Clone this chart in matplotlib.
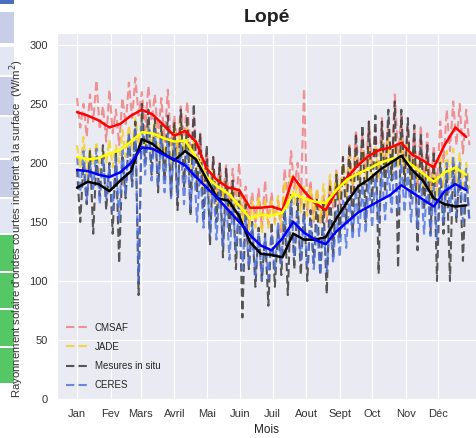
import matplotlib
matplotlib.use('Agg')
import matplotlib.pyplot as plt
import seaborn as sns
import numpy as np
from matplotlib.patches import Rectangle

# valeurs journalieres (un point tous les 3 jours)
cmsaf = [255, 230, 250, 222, 258, 235, 270, 228, 248, 218,
         262, 225, 245, 215, 255, 232, 268, 238, 272, 240,
         260, 228, 265, 235, 258, 222, 255, 218, 262, 215,
         240, 210, 248, 222, 252, 208, 240, 200, 225, 182,
         210, 175, 205, 168, 200, 172, 198, 160, 195, 165,
         200, 155, 180, 148, 175, 150, 178, 145, 185, 148,
         175, 150, 168, 140, 195, 170, 210, 178, 200, 165,
         263, 160, 185, 150, 178, 148, 172, 150, 185, 162,
         195, 165, 205, 172, 215, 178, 228, 185, 225, 190,
         235, 195, 230, 188, 238, 200, 232, 195, 258, 205,
         240, 192, 232, 185, 228, 180, 232, 178, 225, 175,
         215, 180, 235, 200, 245, 210, 252, 215, 250, 208,
         245, 215]
jade = [215, 195, 222, 190, 212, 198, 218, 192, 210, 200,
        220, 196, 215, 200, 228, 205, 232, 210, 238, 215,
        240, 212, 235, 210, 238, 208, 232, 205, 230, 200,
        232, 205, 235, 208, 230, 195, 220, 185, 205, 175,
        198, 172, 195, 165, 190, 168, 185, 160, 180, 155,
        178, 150, 170, 142, 168, 145, 172, 140, 170, 145,
        168, 148, 172, 145, 185, 162, 190, 165, 185, 158,
        182, 155, 180, 152, 178, 150, 182, 155, 190, 165,
        192, 168, 200, 172, 205, 175, 208, 180, 210, 182,
        212, 185, 215, 188, 218, 192, 220, 190, 222, 195,
        220, 190, 215, 182, 210, 178, 205, 172, 200, 170,
        198, 170, 205, 180, 210, 185, 212, 182, 208, 180,
        200, 178]
insitu = [195, 150, 200, 165, 210, 140, 205, 172, 215, 160,
          200, 140, 210, 115, 205, 170, 225, 180, 235, 88,
          250, 200, 245, 190, 238, 175, 232, 185, 240, 170,
          235, 160, 245, 180, 240, 155, 250, 175, 225, 150,
          215, 130, 205, 150, 200, 120, 195, 140, 185, 110,
          175, 69, 165, 110, 150, 95, 145, 100, 140, 79,
          150, 95, 145, 105, 160, 88, 175, 110, 170, 105,
          165, 100, 160, 115, 170, 105, 165, 89, 180, 120,
          190, 135, 205, 150, 215, 140, 225, 160, 232, 150,
          235, 165, 240, 106, 235, 175, 245, 185, 252, 111,
          245, 180, 238, 170, 232, 126, 225, 160, 215, 140,
          210, 100, 200, 140, 195, 100, 200, 150, 195, 117,
          190, 150]
ceres = [205, 175, 210, 168, 200, 178, 212, 165, 205, 170,
         198, 160, 205, 150, 215, 172, 225, 180, 230, 100,
         235, 190, 230, 185, 228, 180, 222, 175, 225, 170,
         220, 172, 215, 165, 212, 160, 205, 150, 195, 145,
         192, 140, 185, 135, 178, 130, 172, 118, 165, 125,
         165, 110, 155, 112, 148, 105, 140, 100, 138, 102,
         140, 108, 150, 115, 165, 125, 170, 120, 158, 118,
         155, 112, 150, 110, 148, 105, 145, 108, 152, 115,
         160, 120, 168, 128, 172, 135, 178, 138, 182, 140,
         185, 145, 188, 150, 192, 152, 198, 158, 205, 160,
         200, 158, 195, 150, 192, 145, 188, 140, 185, 138,
         180, 135, 195, 150, 200, 158, 205, 155, 200, 150,
         195, 150]

# moyennes glissantes (un point tous les 10 jours)
cmsaf_moy = [243, 240, 236, 230, 233, 240, 245, 241, 232, 223, 227, 218, 195,
             185, 179, 177, 162, 162, 163, 160, 188, 176, 166, 160, 176, 188,
             198, 206, 211, 213, 217, 207, 202, 196, 215, 230, 222]
jade_moy = [205, 203, 204, 208, 211, 218, 226, 225, 221, 218, 219, 205, 188,
            180, 174, 164, 153, 156, 155, 158, 174, 170, 167, 166, 177, 186,
            191, 195, 200, 203, 205, 198, 191, 184, 192, 196, 190]
insitu_moy = [179, 184, 182, 176, 185, 193, 220, 216, 208, 202, 210, 203, 186,
              170, 168, 155, 133, 123, 122, 120, 140, 135, 135, 137, 153, 167,
              180, 186, 194, 200, 206, 194, 185, 170, 165, 163, 164]
ceres_moy = [194, 193, 190, 188, 192, 200, 213, 212, 207, 203, 198, 188, 179,
             170, 160, 150, 139, 130, 126, 136, 150, 141, 135, 131, 142, 150,
             158, 163, 168, 173, 181, 175, 169, 163, 176, 182, 177]

mois = ['Jan', 'Fev', 'Mars', 'Avril', 'Mai', 'Juin', 'Juil', 'Aout',
        'Sept', 'Oct', 'Nov', 'Déc']
debut_mois = [0, 31, 59, 90, 120, 151, 181, 212, 243, 273, 304, 334]

sns.set_style('darkgrid')
plt.rcParams['font.family'] = ['Liberation Sans', 'DejaVu Sans']

fig = plt.figure(figsize=(4.77, 4.38), dpi=100)
W, H = 477, 438

# bandeau de gauche (capture d'ecran)
bandes = [(0, 4, '#4a6fc0'), (12, 43, '#c8cee8'), (47, 75, '#e3e6f3'),
          (77, 115, '#c8cee8'), (117, 158, '#e3e6f3'), (160, 197, '#c8cee8'),
          (199, 233, '#e3e6f3'), (235, 271, '#55c865'), (273, 308, '#55c865'),
          (310, 346, '#55c865'), (348, 383, '#55c865')]
for y0, y1, c in bandes:
    fig.add_artist(Rectangle((0, 1 - y1 / H), 14 / W, (y1 - y0) / H,
                             transform=fig.transFigure, color=c, lw=0,
                             zorder=-5))

ax = fig.add_axes([57 / W, 39 / H, 420 / W, 366 / H])

series = [(cmsaf, cmsaf_moy, '#f07a7a', 'red', 'CMSAF'),
          (jade, jade_moy, '#f5cf1a', 'yellow', 'JADE'),
          (insitu, insitu_moy, '#303030', 'black', 'Mesures in situ'),
          (ceres, ceres_moy, '#4a70e0', 'blue', 'CERES')]

for vals, moy, c_jour, c_moy, nom in series:
    jours = np.arange(len(vals)) * 3
    ax.plot(jours, vals, color=c_jour, ls='--', lw=1.5, dashes=(4, 2),
            alpha=0.8, label=nom)
for vals, moy, c_jour, c_moy, nom in series:
    jours_m = np.arange(len(moy)) * 10
    ax.plot(jours_m, moy, color=c_moy, lw=1.8)

ax.set_xlim(-18.5, 370)
ax.set_ylim(0, 310)
ax.set_xticks(debut_mois)
ax.set_xticklabels(mois)
ax.set_yticks(range(0, 301, 50))
ax.tick_params(axis='y', labelsize=8, colors='#333333', pad=3)
ax.tick_params(axis='x', labelsize=8, colors='#333333', pad=4)
ax.set_xlabel('Mois', fontsize=8.5, color='#222222', labelpad=3)
ax.set_ylabel("Rayonnement solaire d'ondes courtes incident à la surface  (W/m$^2$)",
              fontsize=8.2, color='#333333')
ax.yaxis.set_label_coords(-0.074, 0.467)
ax.set_title('Lopé', fontsize=14, fontweight='bold', color='#222222', pad=8)

leg = ax.legend(loc='lower left', fontsize=7, frameon=False, labelspacing=0.95,
                handlelength=2.2, bbox_to_anchor=(0.0, 0.0))

fig.savefig('out.png', dpi=100)
